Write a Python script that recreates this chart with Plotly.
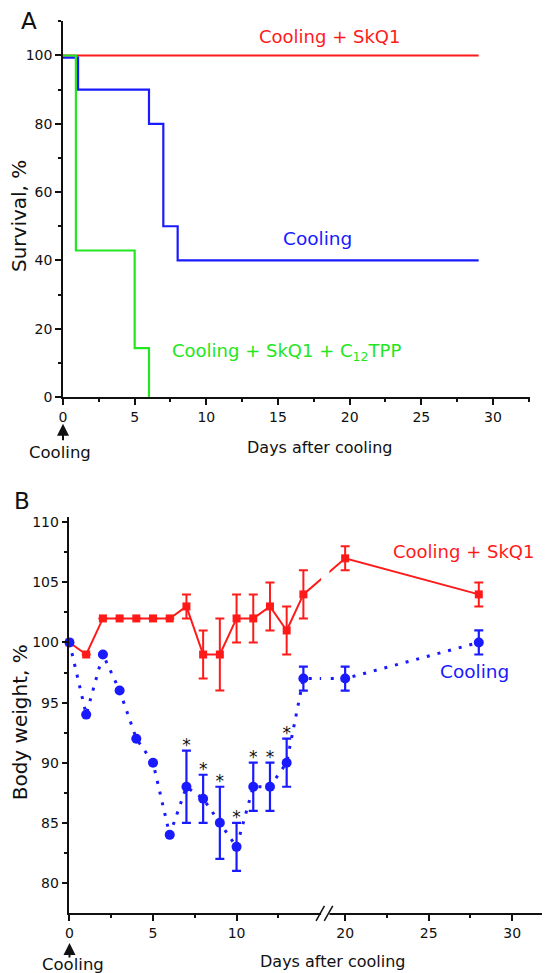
import plotly.graph_objects as go

# ---------------- data: panel A (survival) ----------------
surv_red_x = [0, 29]
surv_red_y = [100, 100]
surv_blue_x = [0, 1.05, 6, 7, 8, 29]
surv_blue_y = [99.4, 90, 80, 50, 40, 40]
surv_green_x = [0, 0.9, 5, 6]
surv_green_y = [100, 42.9, 14.3, 0]

# ---------------- data: panel B (body weight) ----------------
days_b = [0, 1, 2, 3, 4, 5, 6, 7, 8, 9, 10, 11, 12, 13, 14, 20, 28]
red_b = [100, 99, 102, 102, 102, 102, 102, 103, 99, 99, 102, 102, 103, 101, 104, 107, 104]
red_err = [None] * 7 + [1, 2, 3, 2, 2, 2, 2, 2, 1, 1]
blue_b = [100, 94, 99, 96, 92, 90, 84, 88, 87, 85, 83, 88, 88, 90, 97, 97, 100]
blue_err = [None] * 7 + [3, 2, 3, 2, 2, 2, 2, 1, 1, 1]
sig_days = [7, 8, 9, 10, 11, 12, 13]

xticks_a = [0, 5, 10, 15, 20, 25, 30]
xminor_a = [2.5, 7.5, 12.5, 17.5, 22.5, 27.5, 32.5]
yticks_a = [0, 20, 40, 60, 80, 100]
yminor_a = [10, 30, 50, 70, 90, 110]
xticks_b = [0, 5, 10, 20, 25, 30]
xminor_b = [2.5, 7.5, 12.5, 22.5, 27.5, 32.5]
yticks_b = [80, 85, 90, 95, 100, 105, 110]
yminor_b = [82.5, 87.5, 92.5, 97.5, 102.5, 107.5]

# broken x axis in panel B
BREAK_LEFT = 15.3
BREAK_SKIP = 3.5


def to_axis(d):
    return d if d < BREAK_LEFT else d - BREAK_SKIP


RED = "#ff1a1a"
BLUE = "#1a1aff"
GREEN = "#22e622"
INK = "#111111"
FONT = "DejaVu Sans"

fig = go.Figure()

# ----- panel A traces -----
fig.add_trace(go.Scatter(x=surv_red_x, y=surv_red_y, mode="lines", line=dict(color=RED, width=2.2, shape="hv"),
                         xaxis="x", yaxis="y", cliponaxis=False))
fig.add_trace(go.Scatter(x=surv_blue_x, y=surv_blue_y, mode="lines", line=dict(color=BLUE, width=2.2, shape="hv"),
                         xaxis="x", yaxis="y", cliponaxis=False))
fig.add_trace(go.Scatter(x=surv_green_x, y=surv_green_y, mode="lines", line=dict(color=GREEN, width=2.2, shape="hv"),
                         xaxis="x", yaxis="y", cliponaxis=False))

# ----- panel B traces -----
pos_b = [to_axis(d) for d in days_b]
fig.add_trace(go.Scatter(
    x=pos_b, y=red_b, mode="lines+markers",
    line=dict(color=RED, width=2),
    marker=dict(symbol="square", size=8, color=RED),
    error_y=dict(type="data", array=red_err, visible=True, color=RED, thickness=2, width=4.5),
    xaxis="x2", yaxis="y2", cliponaxis=False))
fig.add_trace(go.Scatter(
    x=pos_b, y=blue_b, mode="lines+markers",
    line=dict(color=BLUE, width=3, dash="3px,8px"),
    marker=dict(symbol="circle", size=10, color=BLUE),
    error_y=dict(type="data", array=blue_err, visible=True, color=BLUE, thickness=2.2, width=4.5),
    xaxis="x2", yaxis="y2", cliponaxis=False))

star_x = [to_axis(d) for d in sig_days]
star_y = [blue_b[days_b.index(d)] + blue_err[days_b.index(d)] + 0.3 for d in sig_days]
fig.add_trace(go.Scatter(x=star_x, y=star_y, mode="text", text=["*"] * len(sig_days),
                         textposition="middle center", textfont=dict(family=FONT, size=17, color=INK),
                         xaxis="x2", yaxis="y2", cliponaxis=False))

axis_common = dict(showline=True, linecolor=INK, linewidth=1.5, ticks="outside", ticklen=6, tickwidth=1.5,
                   tickcolor=INK, showgrid=False, zeroline=False, automargin=False,
                   tickfont=dict(family=FONT, size=14, color=INK))
minor_common = dict(ticks="outside", ticklen=3.5, tickwidth=1.5, tickcolor=INK, showgrid=False)

fig.update_layout(
    width=550, height=973, autosize=False,
    margin=dict(l=0, r=0, t=0, b=0, pad=0),
    paper_bgcolor="white", plot_bgcolor="white",
    showlegend=False,
    xaxis=dict(domain=[0.1, 0.9482], range=[0, 32.55], anchor="y", tickmode="array", tickvals=xticks_a,
               ticktext=[str(t) for t in xticks_a], minor=dict(tickmode="array", tickvals=xminor_a, **minor_common),
               **axis_common),
    yaxis=dict(domain=[0.6002, 0.9863], range=[0, 110], anchor="x", tickmode="array", tickvals=yticks_a,
               minor=dict(tickmode="array", tickvals=yminor_a, **minor_common), **axis_common),
    xaxis2=dict(domain=[0.1118, 0.9936], range=[0, 29.03], anchor="y2", tickmode="array",
                tickvals=[to_axis(t) for t in xticks_b], ticktext=[str(t) for t in xticks_b],
                minor=dict(tickmode="array", tickvals=[to_axis(t) for t in xminor_b], **minor_common),
                **axis_common),
    yaxis2=dict(domain=[0.0699, 0.4764], range=[77.5, 110.4], anchor="x2", tickmode="array", tickvals=yticks_b,
                minor=dict(tickmode="array", tickvals=yminor_b, **minor_common), **axis_common),
)

# axis break: white gap + double slash
fig.add_shape(type="rect", xref="x2", yref="paper", x0=15.06, x1=15.56, y0=0.0668, y1=0.4764,
              fillcolor="white", line=dict(width=0), layer="above")
fig.add_shape(type="line", xref="x2", yref="paper", x0=14.76, x1=15.26, y0=0.0617, y1=0.0771,
              line=dict(color=INK, width=1.5), layer="above")
fig.add_shape(type="line", xref="x2", yref="paper", x0=15.25, x1=15.76, y0=0.0617, y1=0.0771,
              line=dict(color=INK, width=1.5), layer="above")


def txt(text, x, y, size, color=INK, angle=0, xanchor="center", yanchor="middle"):
    fig.add_annotation(text=text, x=x, y=y, xref="paper", yref="paper", showarrow=False,
                       font=dict(family=FONT, size=size, color=color), textangle=angle,
                       xanchor=xanchor, yanchor=yanchor, borderpad=0)


# panel A texts
txt("A", 0.0382, 0.9866, 23)
txt("Survival, %", 0.020, 0.7862, 20, angle=-90)
txt("Days after cooling", 0.568, 0.5485, 16)
txt("Cooling", 0.0945, 0.5430, 16.5)
txt("Cooling + SkQ1", 0.5845, 0.9709, 18, RED)
txt("Cooling", 0.5633, 0.7629, 18.5, BLUE)
txt("Cooling + SkQ1 + C<sub>12</sub>TPP", 0.5065, 0.6460, 18, GREEN)

# panel B texts
txt("B", 0.026, 0.4933, 23)
txt("Body weight, %", 0.0224, 0.2662, 20, angle=-90)
txt("Days after cooling", 0.5902, 0.0200, 16)
txt("Cooling", 0.1178, 0.0170, 16.5)
txt("Cooling + SkQ1", 0.829, 0.4416, 18, RED)
txt("Cooling", 0.8487, 0.3176, 18.5, BLUE)

# arrows marking the cooling moment
fig.add_annotation(text="", x=0, y=0.5728, xref="x", yref="paper", ax=0, ay=18, showarrow=True,
                   arrowhead=2, arrowsize=1.2, arrowwidth=2, arrowcolor=INK, standoff=0)
fig.add_annotation(text="", x=0, y=0.0391, xref="x2", yref="paper", ax=0, ay=16, showarrow=True,
                   arrowhead=2, arrowsize=1.2, arrowwidth=2, arrowcolor=INK, standoff=0)

fig.write_html("out.html")
